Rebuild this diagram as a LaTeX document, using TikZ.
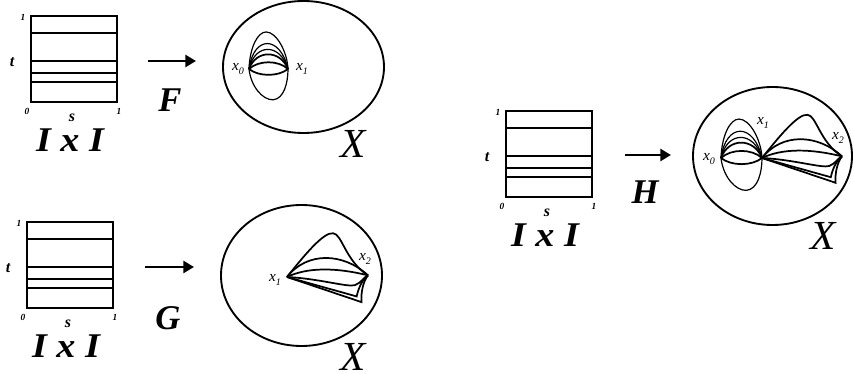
\documentclass[tikz,border=0pt]{standalone}
\usepackage{fontspec}
\usepackage{graphicx}
\setmainfont{Liberation Serif}
\usetikzlibrary{arrows.meta}
\tikzset{
  sqline/.style={line width=1.7pt},
  lensline/.style={line width=0.9pt},
  thickline/.style={line width=1.3pt},
  ellline/.style={line width=1.4pt},
  maparrow/.style={line width=2.2pt,-{Triangle[length=8pt,width=9pt]}},
  tiny/.style={font=\fontsize{7}{7}\selectfont\bfseries\itshape,inner sep=0pt},
  var/.style={font=\fontsize{12}{12}\selectfont\bfseries\itshape,inner sep=0pt},
  big/.style={font=\fontsize{26}{26}\selectfont\bfseries\itshape,inner sep=0pt},
  bigx/.style={font=\fontsize{31}{31}\selectfont\itshape,inner sep=0pt},
  ptlab/.style={font=\fontsize{11.5}{11.5}\selectfont\itshape,inner sep=0pt},
}
\newcommand\ptname[1]{x\raisebox{-0.45ex}{\fontsize{7.5}{7.5}\selectfont #1}}
% square panel: #1 = top-left x, #2 = top-left y, #3 = name prefix
\newcommand\sqpanel[3]{
  \begin{scope}[shift={(#1,#2)}]
    \draw[sqline] (0,0) rectangle (86,86);
    \foreach \f in {0.2,0.52,0.66,0.77} \draw[sqline] (0,86*\f) -- (86,86*\f);
    \node[tiny] (#3-one) at (-8,1) {1};
    \node[var]  (#3-t)   at (-19,46) {t};
    \node[tiny] (#3-zero) at (-4,95) {0};
    \node[tiny] (#3-onex) at (88,95) {1};
    \node[var]  (#3-s)   at (41,102) {s};
    \node[big] (#3-ixi) at (39,124) {\scalebox{1.1}[1]{I x I}};
  \end{scope}
}
% lens of F in local unit coordinates
\newcommand\lensF{
  \draw[lensline] (0,0) .. controls (0.02,-0.55) and (0.22,-0.95) .. (0.44,-0.95) .. controls (0.7,-0.95) and (0.98,-0.45) .. (1,0);
  \draw[lensline] (0,0) .. controls (0.05,0.45) and (0.35,0.8) .. (0.62,0.79) .. controls (0.9,0.76) and (1.0,0.35) .. (1,0);
  \draw[lensline] (0,0) .. controls (0.12,-0.87) and (0.8,-0.87) .. (1,0);
  \draw[lensline] (0,0) .. controls (0.15,-0.67) and (0.8,-0.67) .. (1,0);
  \draw[thickline] (0,0) .. controls (0.18,-0.5) and (0.8,-0.5) .. (1,0);
  \draw[thickline] (0,0) .. controls (0.25,-0.23) and (0.75,-0.23) .. (1,0);
  \draw[thickline] (0,0) .. controls (0.25,0.2) and (0.75,0.2) .. (1,0);
}
% lens of G in local unit coordinates
\newcommand\lensG{
  \draw[thickline] (0,0) .. controls (0.2,-0.25) and (0.45,-0.56) .. (0.57,-0.54) .. controls (0.68,-0.53) and (0.72,-0.2) .. (1,-0.02);
  \draw[thickline] (0,0) .. controls (0.25,-0.32) and (0.7,-0.3) .. (1,-0.02);
  \draw[thickline] (0,0) .. controls (0.25,-0.12) and (0.6,-0.12) .. (1,-0.02);
  \draw[thickline] (0,0) .. controls (0.4,0.02) and (0.75,0.13) .. (0.84,0.1) .. controls (0.92,0.07) and (0.95,0.0) .. (1,-0.02);
  \draw[thickline] (0,0) -- (0.86,0.24) .. controls (0.88,0.15) and (0.92,0.04) .. (1,-0.02);
  \draw[thickline] (0,0) -- (0.92,0.31) .. controls (0.91,0.2) and (0.94,0.05) .. (1,-0.02);
}
\begin{document}
\begin{tikzpicture}[x=0.75pt,y=-0.75pt]
\useasboundingbox (0,0) rectangle (854,374);
% ---------- F ----------
\sqpanel{31}{16}{F}
\coordinate (Fa) at (148,61);
\coordinate (Fb) at (196,61);
\draw[maparrow] (Fa) -- (Fb);
\node[big] (Flab) at (170,100) {F};
\draw[ellline] (303.5,67) ellipse [x radius=80.5, y radius=66];
\coordinate (Fx0) at (249,69);
\coordinate (Fx1) at (288,69);
\begin{scope}[shift={(Fx0)},scale=39]\lensF\end{scope}
\node[ptlab] (Fx0l) at (238,69) {\ptname{0}};
\node[ptlab] (Fx1l) at (302,69) {\ptname{1}};
\node[bigx] (FX) at (353,144) {X};
% ---------- G ----------
\sqpanel{27}{222}{G}
\coordinate (Ga) at (145,267);
\coordinate (Gb) at (194,267);
\draw[maparrow] (Ga) -- (Gb);
\node[big] (Glab) at (168,318) {G};
\draw[ellline] (301.5,275.5) ellipse [x radius=80.5, y radius=70.5];
\coordinate (Gx1) at (287,277);
\coordinate (Gx2) at (368,275);
\begin{scope}[shift={(Gx1)},scale=81]\lensG\end{scope}
\node[ptlab] (Gx1l) at (275,280) {\ptname{1}};
\node[ptlab] (Gx2l) at (365,259) {\ptname{2}};
\node[bigx] (GX) at (353,357) {X};
% ---------- H ----------
\sqpanel{506}{111}{H}
\coordinate (Ha) at (625,155);
\coordinate (Hb) at (671,155);
\draw[maparrow] (Ha) -- (Hb);
\node[big] (Hlab) at (645,192) {H};
\draw[ellline] (772.5,156) ellipse [x radius=79.5, y radius=69];
\coordinate (Hx0) at (721,158);
\coordinate (Hx1) at (762,158);
\coordinate (Hx2) at (842,157);
\begin{scope}[shift={(Hx0)},scale=41]\lensF\end{scope}
\begin{scope}[shift={(Hx1)},scale=80]\lensG\end{scope}
\node[ptlab] (Hx0l) at (709,159) {\ptname{0}};
\node[ptlab] (Hx1l) at (763,123) {\ptname{1}};
\node[ptlab] (Hx2l) at (838,138) {\ptname{2}};
\node[bigx] (HX) at (823,236) {X};
\end{tikzpicture}
\end{document}
